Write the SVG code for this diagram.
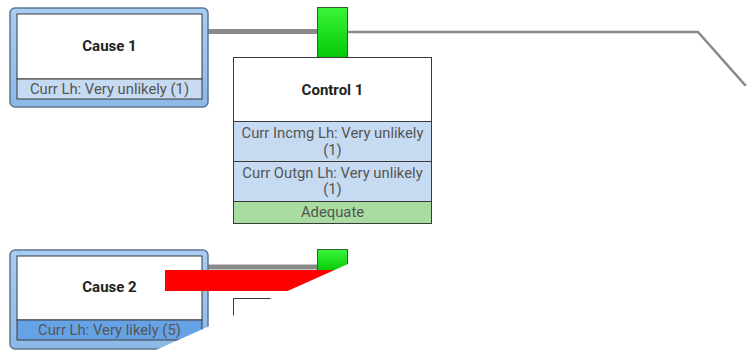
<svg xmlns="http://www.w3.org/2000/svg" width="752" height="350" viewBox="0 0 752 350">
<defs>
<linearGradient id="gGreen" x1="0" y1="0" x2="0" y2="1">
<stop offset="0" stop-color="#3af53a"/>
<stop offset="1" stop-color="#05c805"/>
</linearGradient>
<linearGradient id="gFrame" x1="0" y1="0" x2="0" y2="1">
<stop offset="0" stop-color="#a9cdf2"/>
<stop offset="1" stop-color="#8db8e6"/>
</linearGradient>
</defs>
<style>
.frame{fill:url(#gFrame);stroke:#5d7590;stroke-width:1.5}
.inner{fill:#fff;stroke:#3a3a3a;stroke-width:1}
.lbl{fill:#c6dbf1;stroke:#3a3a3a;stroke-width:1}
.lbl5{fill:#66a3e6;stroke:#3a3a3a;stroke-width:1}
.ok{fill:#a9dca1;stroke:#3a3a3a;stroke-width:1}
.title{font-family:Roboto,"Liberation Sans",sans-serif;font-weight:bold;font-size:15px;fill:#222;text-anchor:middle}
.t{font-family:Roboto,"Liberation Sans",sans-serif;font-size:14.8px;fill:#555;text-anchor:middle}
.bar{fill:url(#gGreen);stroke:#2f5f2f;stroke-width:1}
.thick{stroke:#8a8a8a;stroke-width:5;fill:none}
.thin{stroke:#8a8a8a;stroke-width:2.5;fill:none}
</style>
<g id="connectors">
<line class="thick" x1="208" y1="31.5" x2="318" y2="31.5"/>
<polyline class="thin" points="348,32 698,32 752,93"/>
<line class="thick" x1="208" y1="267" x2="318" y2="267"/>
</g>
<g id="cause1">
<rect class="frame" x="10" y="8" width="198" height="99" rx="5"/>
<rect class="inner" x="17" y="14" width="185" height="65"/>
<rect class="lbl" x="17" y="79" width="185" height="20"/>
<text class="title" x="109.5" y="50.5">Cause 1</text>
<text class="t" x="109.5" y="94">Curr Lh: Very unlikely (1)</text>
</g>
<g id="barrier1">
<rect class="bar" x="317.5" y="7.5" width="30" height="50"/>
</g>
<g id="control1">
<rect class="inner" x="233.5" y="57.5" width="198" height="64"/>
<rect class="lbl" x="233.5" y="121.5" width="198" height="40"/>
<rect class="lbl" x="233.5" y="161.5" width="198" height="40"/>
<rect class="ok" x="233.5" y="201.5" width="198" height="22"/>
<text class="title" x="332.5" y="94.5">Control 1</text>
<text class="t" x="332.5" y="138">Curr Incmg Lh: Very unlikely</text>
<text class="t" x="332.5" y="155">(1)</text>
<text class="t" x="332.5" y="177.5">Curr Outgn Lh: Very unlikely</text>
<text class="t" x="332.5" y="194">(1)</text>
<text class="t" x="332.5" y="216.5">Adequate</text>
</g>
<g id="cause2">
<rect class="frame" x="10" y="250" width="198" height="99" rx="5"/>
<rect class="inner" x="17" y="256" width="185" height="64"/>
<rect class="lbl5" x="17" y="320" width="185" height="20"/>
<text class="title" x="109.5" y="292">Cause 2</text>
<text class="t" x="109.5" y="335">Curr Lh: Very likely (5)</text>
</g>
<g id="barrier2">
<rect class="bar" x="317.5" y="249.5" width="30" height="22"/>
</g>
<g id="control2">
<rect class="inner" x="233.5" y="298.5" width="198" height="60"/>
</g>
<rect x="165" y="270" width="190" height="21" fill="#ff0000"/>
<polygon points="156,350 348,264 752,83 752,350" fill="#ffffff"/>
</svg>
